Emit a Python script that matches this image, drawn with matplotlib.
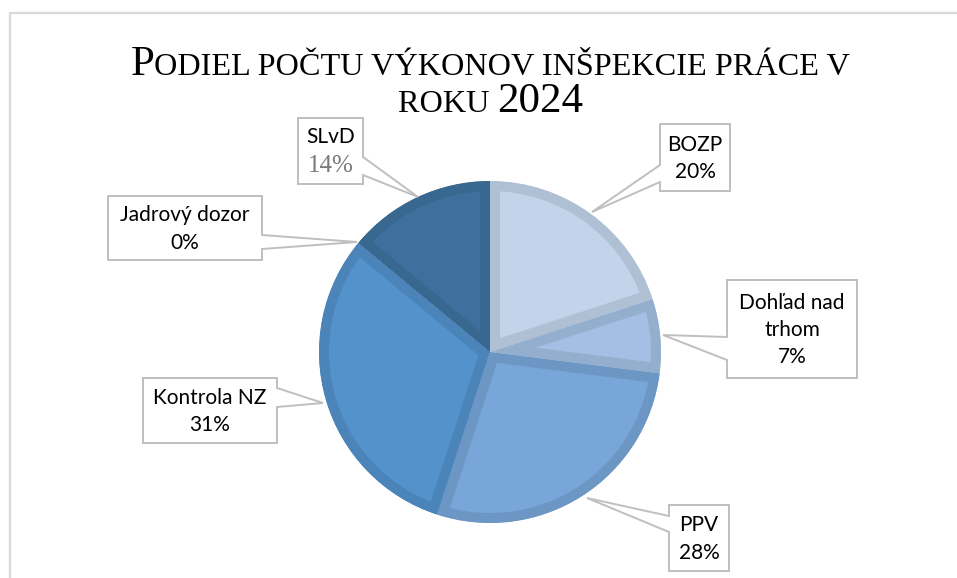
import matplotlib
matplotlib.use("Agg")
import matplotlib.pyplot as plt
from matplotlib.patches import Polygon

# data
labels = ["BOZP", "Dohľad nad\ntrhom", "PPV", "Kontrola NZ", "Jadrový dozor", "SLvD"]
shares = [20, 7, 28, 31, 0, 14]
pct_text = ["20%", "7%", "28%", "31%", "0%", "14%"]
fills = ["#c3d3e9", "#a3c0e4", "#78a6d8", "#5492cb", "#4a86c0", "#3f6f9c"]
bands = ["#afbfd4", "#94aece", "#6c97c5", "#4b84b8", "#4479ad", "#386790"]

W, H = 957, 578

def Y(y):
    return H - y

fig = plt.figure(figsize=(W / 100, H / 100), dpi=100)
ax = fig.add_axes([0, 0, 1, 1])

# pie
cx, cy, r = 490, 352, 171
band_px = 10
wedges, _ = ax.pie(shares, colors=fills, startangle=90, counterclock=False,
                   center=(cx, Y(cy)), radius=r, frame=True)
for w, bc in zip(wedges, bands):
    w.set_edgecolor(bc)
    w.set_linewidth(2 * band_px * 0.72)
    w.set_clip_path(w)
    w.set_clip_on(True)
ax.set_xlim(0, W)
ax.set_ylim(0, H)
ax.set_aspect("equal")
ax.axis("off")

# chart frame (only top and left visible)
ax.plot([10, 10, W], [Y(H), Y(13), Y(13)], color="#d9d9d9", lw=1.6, solid_joinstyle="miter")

# label boxes: (x0, y0, x1, y1), side, base points along side, tip
boxes = [
    ((660, 124, 730, 191), "left", (165, 182), (592, 212)),
    ((727, 280, 857, 378), "left", (337, 360), (663, 335)),
    ((669, 505, 729, 571), "left", (516, 532), (587, 498)),
    ((143, 378, 277, 443), "right", (388, 407), (323, 403)),
    ((108, 196, 262, 260), "right", (235, 249), (357, 242)),
    ((298, 118, 363, 184), "right", (157, 175), (418, 197)),
]

edge = "#bfbfbf"
for i, (bx, side, (b1, b2), tip) in enumerate(boxes):
    x0, y0, x1, y1 = bx
    if side == "left":
        pts = [(x0, y0), (x1, y0), (x1, y1), (x0, y1), (x0, b2), tip, (x0, b1)]
    else:
        pts = [(x0, y0), (x1, y0), (x1, b1), tip, (x1, b2), (x1, y1), (x0, y1)]
    poly = Polygon([(px, Y(py)) for px, py in pts], closed=True,
                   facecolor="white", edgecolor=edge, lw=1.4, zorder=5)
    ax.add_patch(poly)
    xc = (x0 + x1) / 2
    yc = (y0 + y1) / 2
    if labels[i] == "SLvD":
        ax.text(xc, Y(yc - 14), labels[i], ha="center", va="center", fontsize=15,
                family="Lato", color="black", zorder=6)
        ax.text(xc, Y(yc + 15), pct_text[i], ha="center", va="center", fontsize=18,
                family="Liberation Serif", color="#7a7a7a", zorder=6)
    else:
        ax.text(xc, Y(yc + 1), labels[i] + "\n" + pct_text[i], ha="center", va="center",
                fontsize=15, family="Lato", linespacing=1.45, color="black",
                multialignment="center", zorder=6)

# title in small caps, built from pieces
big, small = 31, 23.2
title_lines = [
    ([("P", big), ("ODIEL POČTU VÝKONOV INŠPEKCIE PRÁCE V", small)], 75),
    ([("ROKU ", small), ("2024", big)], 112),
]
renderer = fig.canvas.get_renderer()
for parts, base in title_lines:
    objs = []
    for s, fs in parts:
        t = ax.text(0, Y(base), s, fontsize=fs, family="Liberation Serif",
                    ha="left", va="baseline", color="black")
        objs.append(t)
    widths = [t.get_window_extent(renderer).width for t in objs]
    x = W / 2 + 12 - sum(widths) / 2
    for t, wd in zip(objs, widths):
        t.set_x(x)
        x += wd

fig.savefig("out.png", dpi=100)
